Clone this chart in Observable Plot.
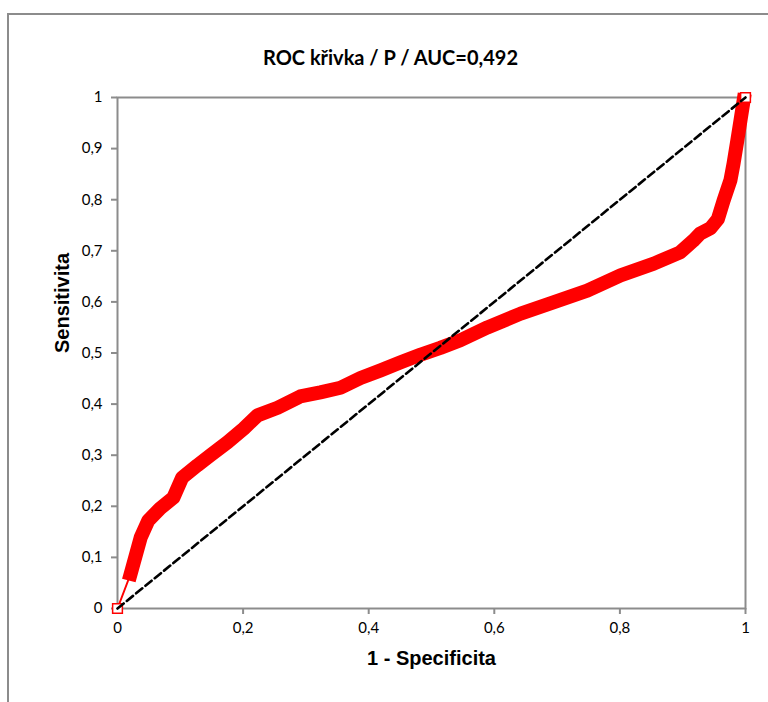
<!DOCTYPE html>
<html>
<head>
<meta charset="utf-8">
<script src="https://cdn.jsdelivr.net/npm/d3@7"></script>
<script src="https://cdn.jsdelivr.net/npm/@observablehq/plot@0.6"></script>
<style>
  html, body { margin: 0; padding: 0; background: #fff; overflow: hidden; }
  #wrap { position: relative; width: 768px; height: 702px; }
  #border { position: absolute; left: 7px; top: 13px; width: 800px; height: 740px;
            border-left: 2px solid #8c8c8c; border-top: 2px solid #8c8c8c; box-sizing: border-box; pointer-events: none; }
  #chart { position: absolute; left: 0; top: 0; }
</style>
</head>
<body>
<div id="wrap"><div id="border"></div><div id="chart"></div></div>
<script>
// ROC curve: 1 - specificity (x) and sensitivity (y)
const fpr = [0, 0.021, 0.037, 0.049, 0.068, 0.089, 0.103, 0.127, 0.148, 0.175, 0.201, 0.223, 0.255, 0.291, 0.323, 0.355, 0.387, 0.419, 0.451, 0.483, 0.514, 0.546, 0.589, 0.642, 0.694, 0.748, 0.801, 0.854, 0.896, 0.917, 0.928, 0.944, 0.956, 0.965, 0.976, 0.981, 0.987, 0.992, 0.997, 1];
const tpr = [0, 0.068, 0.139, 0.172, 0.196, 0.217, 0.256, 0.280, 0.300, 0.325, 0.352, 0.378, 0.393, 0.415, 0.423, 0.432, 0.451, 0.466, 0.482, 0.497, 0.510, 0.525, 0.550, 0.577, 0.599, 0.622, 0.652, 0.675, 0.697, 0.720, 0.734, 0.744, 0.762, 0.798, 0.838, 0.871, 0.916, 0.955, 0.994, 1];
// reference diagonal
const diagX = [0, 1];
const diagY = [0, 1];
// ticks
const xTicks = [0, 0.2, 0.4, 0.6, 0.8, 1];
const yTicks = [0, 0.1, 0.2, 0.3, 0.4, 0.5, 0.6, 0.7, 0.8, 0.9, 1];
const titleText = "ROC křivka / P / AUC=0,492";
const xLabel = "1 - Specificita";
const yLabel = "Sensitivita";

const roc = fpr.map((x, i) => ({x, y: tpr[i]}));
const band = roc.slice(1, roc.length - 1);
const ends = [roc[0], roc[roc.length - 1]];
const diag = diagX.map((x, i) => ({x, y: diagY[i]}));
const fmt = d => String(+d.toFixed(2)).replace(".", ",");

const tickFont = "Lato, 'Open Sans', sans-serif";
const chart = Plot.plot({
  width: 768, height: 702,
  marginLeft: 117, marginRight: 23, marginTop: 97, marginBottom: 94,
  style: {background: "transparent", fontFamily: tickFont},
  x: {domain: [0, 1]},
  y: {domain: [0, 1]},
  marks: [
    Plot.frame({stroke: "#8c8c8c", strokeWidth: 2}),
    Plot.axisX({ticks: xTicks, tickFormat: fmt, tickSize: 6, tickPadding: 8, stroke: "#8c8c8c", strokeWidth: 2, fontSize: 15, fill: "#000", label: null}),
    Plot.axisY({ticks: yTicks, tickFormat: fmt, tickSize: 6, tickPadding: 9, stroke: "#8c8c8c", strokeWidth: 2, fontSize: 15, fill: "#000", label: null}),
    Plot.line(roc, {x: "x", y: "y", stroke: "#ff0000", strokeWidth: 2}),
    Plot.line(band, {x: "x", y: "y", stroke: "#ff0000", strokeWidth: 14, strokeLinecap: "square", strokeLinejoin: "round"}),
    Plot.dot(ends, {x: "x", y: "y", symbol: "square", r: 5.5, stroke: "#ff0000", strokeWidth: 1.5, fill: "#fff"}),
    Plot.line(diag, {x: "x", y: "y", stroke: "#000", strokeWidth: 2.6, strokeDasharray: "8,4"}),
    Plot.text([titleText], {frameAnchor: "top", dx: -41, dy: -47, fontSize: 20, fontWeight: "bold", fontFamily: "Lato, sans-serif", fill: "#000"}),
    Plot.text([xLabel], {frameAnchor: "bottom", dy: 56, fontSize: 20, fontWeight: "bold", fontFamily: "'Liberation Sans', Arial, sans-serif", fill: "#000"}),
    Plot.text([yLabel], {frameAnchor: "left", dx: -55, rotate: -90, fontSize: 20, fontWeight: "bold", fontFamily: "'Liberation Sans', Arial, sans-serif", fill: "#000"})
  ]
});
document.getElementById("chart").appendChild(chart);
</script>
</body>
</html>
